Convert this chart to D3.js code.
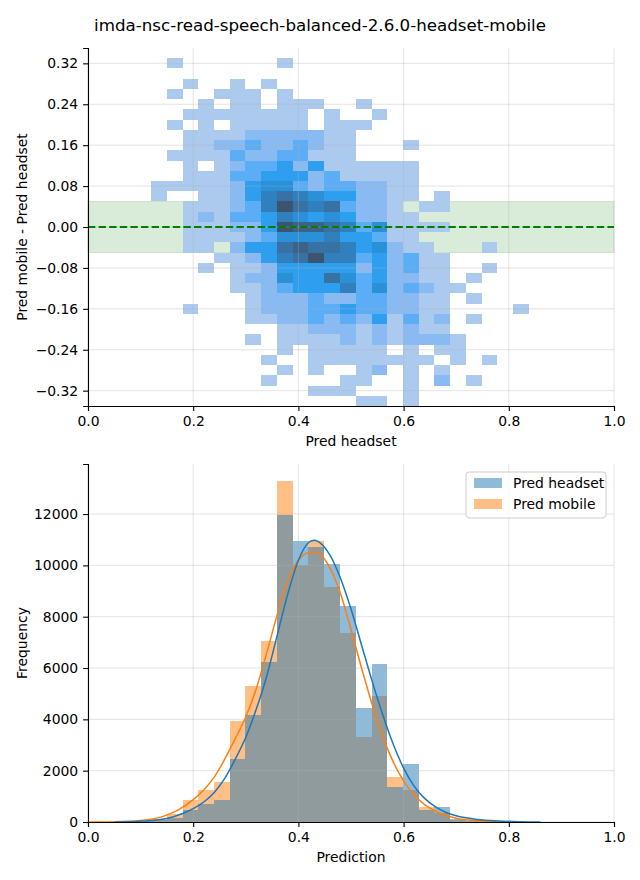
<!DOCTYPE html>
<html><head><meta charset="utf-8">
<script src="https://cdn.jsdelivr.net/npm/d3@7"></script>
<style>body{margin:0;background:#fff} text{font-family:"DejaVu Sans",sans-serif;fill:#000}</style>
</head><body><svg id="c" width="640" height="880"></svg>
<script>
// ---------------- DATA ----------------
const title = "imda-nsc-read-speech-balanced-2.6.0-headset-mobile";
const hmXEdges = [0.1198,0.1497,0.1797,0.2096,0.2396,0.2695,0.2994,0.3294,0.3593,0.3893,0.4192,0.4491,0.4791,0.5090,0.5390,0.5689,0.5988,0.6288,0.6587,0.6887,0.7186,0.7485,0.7785,0.8084,0.8384];
const hmYEdges = [0.33,0.31,0.29,0.27,0.25,0.23,0.21,0.19,0.17,0.15,0.13,0.11,0.09,0.07,0.05,0.03,0.01,-0.01,-0.03,-0.05,-0.07,-0.09,-0.11,-0.13,-0.15,-0.17,-0.19,-0.21,-0.23,-0.25,-0.27,-0.29,-0.31,-0.33,-0.35];
const hmCounts = [
[0,1,0,0,0,0,0,0,1,0,0,0,0,0,0,0,0,0,0,0,0,0,0,0],
[0,0,0,0,0,0,0,0,0,0,0,0,0,0,0,0,0,0,0,0,0,0,0,0],
[0,0,1,0,0,1,0,1,0,0,0,0,0,0,0,0,0,0,0,0,0,0,0,0],
[0,1,0,0,1,1,1,0,1,0,0,0,0,0,0,0,0,0,0,0,0,0,0,0],
[0,0,0,1,0,1,1,0,1,1,1,0,0,1,0,0,0,0,0,0,0,0,0,0],
[0,0,1,1,1,1,1,1,1,1,0,1,0,0,1,0,0,0,0,0,0,0,0,0],
[0,1,0,1,0,1,1,1,1,1,0,1,1,1,0,0,0,0,0,0,0,0,0,0],
[0,0,1,1,1,1,2,2,2,2,2,1,1,0,0,0,0,0,0,0,0,0,0,0],
[0,0,1,1,2,2,3,2,2,3,2,1,1,0,0,0,1,0,0,0,0,0,0,0],
[0,1,1,1,1,3,2,2,3,3,1,1,1,0,0,0,0,0,0,0,0,0,0,0],
[0,0,1,0,1,2,3,3,4,2,4,1,1,1,1,1,1,0,0,0,0,0,0,0],
[0,0,1,1,1,3,3,4,4,4,2,3,1,1,1,1,1,0,0,0,0,0,0,0],
[1,1,1,1,1,2,4,5,5,3,2,3,3,2,2,1,1,0,0,0,0,0,0,0],
[1,0,0,1,1,2,4,6,7,6,5,4,4,2,2,1,1,0,1,0,0,0,0,0],
[0,0,1,1,1,2,3,6,9,7,6,7,3,2,2,1,0,1,1,0,0,0,0,0],
[0,0,1,2,1,3,3,4,6,5,4,5,4,2,2,1,1,0,0,0,0,0,0,0],
[0,0,1,1,1,2,2,4,9,8,8,7,6,3,5,1,1,1,1,0,0,0,0,0],
[0,0,1,1,1,1,2,3,5,5,5,6,4,4,3,1,1,0,0,0,0,0,0,0],
[0,0,1,1,0,2,4,4,7,8,7,7,6,4,5,2,1,1,0,0,0,1,0,0],
[0,0,0,0,1,1,2,4,6,7,9,6,6,3,4,2,3,1,1,0,0,0,0,0],
[0,0,0,1,0,1,1,2,4,4,4,4,4,2,4,2,3,1,1,0,0,1,0,0],
[0,0,0,0,0,1,2,2,5,4,4,7,5,3,4,2,2,1,1,0,1,0,0,0],
[0,0,0,0,0,1,1,2,3,4,4,4,6,3,5,2,3,2,1,1,0,0,0,0],
[0,0,0,0,0,0,1,2,2,2,3,2,2,3,3,2,2,1,1,0,1,0,0,0],
[0,0,1,0,0,0,1,2,2,2,3,3,4,3,3,2,2,1,1,0,0,0,0,1],
[0,0,0,0,0,0,1,1,2,2,3,2,3,2,4,1,3,1,2,0,1,0,0,0],
[0,0,0,0,0,0,0,0,1,1,2,2,2,1,2,1,2,1,1,0,0,0,0,0],
[0,0,0,0,0,0,1,0,1,1,1,1,2,1,2,1,2,2,2,1,0,0,0,0],
[0,0,0,0,0,0,0,0,1,0,1,1,1,1,1,0,1,0,1,1,0,0,0,0],
[0,0,0,0,0,0,0,1,0,0,1,1,1,1,1,1,1,1,0,1,0,1,0,0],
[0,0,0,0,0,0,0,0,1,0,1,0,0,1,2,0,1,0,1,0,0,0,0,0],
[0,0,0,0,0,0,0,1,0,0,0,0,1,1,0,0,1,0,2,0,1,0,0,0],
[0,0,0,0,0,0,0,0,0,0,1,1,1,0,0,0,1,0,0,0,0,0,0,0],
[0,0,0,0,0,0,0,0,0,0,0,0,0,1,1,0,1,0,0,0,0,0,0,0]
];
const bandLimits = [-0.05, 0.05];
const topYTicks = [-0.32,-0.24,-0.16,-0.08,0,0.08,0.16,0.24,0.32];
const xTicks = [0,0.2,0.4,0.6,0.8,1.0];

const histEdges = [0.0599,0.0898,0.1198,0.1497,0.1797,0.2096,0.2396,0.2695,0.2994,0.3294,0.3593,0.3893,0.4192,0.4491,0.4791,0.5090,0.5390,0.5689,0.5988,0.6288,0.6587,0.6887,0.7186,0.7485,0.7785,0.8084];
const histHeadset = [10,20,60,150,450,700,850,2450,4150,6250,11950,10950,10700,10050,8400,4450,6150,1350,2250,450,600,100,40,15,5];
const histMobile  = [20,40,100,300,850,1250,1550,3950,5300,7050,13290,10000,10950,9150,7350,3300,4900,1750,1250,600,350,80,30,10,3];
const kdeXHeadset = [0.05,0.10,0.15,0.18,0.20,0.22,0.24,0.26,0.28,0.30,0.32,0.34,0.36,0.38,0.40,0.42,0.43,0.44,0.46,0.48,0.50,0.52,0.54,0.56,0.58,0.60,0.62,0.64,0.66,0.68,0.70,0.74,0.78,0.82,0.86];
const kdeHeadset  = [0,30,140,330,520,780,1150,1700,2450,3300,4400,5700,7300,8900,10200,10900,10980,10900,10400,9500,8300,6900,5500,4200,3050,2100,1400,920,600,380,240,100,40,12,0];
const kdeXMobile  = [0.00,0.05,0.10,0.14,0.17,0.20,0.22,0.24,0.26,0.28,0.30,0.32,0.34,0.36,0.38,0.40,0.42,0.43,0.44,0.46,0.48,0.50,0.52,0.54,0.56,0.58,0.60,0.62,0.64,0.66,0.68,0.70,0.74,0.80];
const kdeMobile   = [0,10,60,200,450,870,1250,1750,2450,3250,4100,5200,6600,8100,9400,10200,10500,10520,10450,9900,8900,7500,6000,4600,3350,2350,1600,1050,680,430,260,150,50,0];
const bottomYTicks = [0,2000,4000,6000,8000,10000,12000];
const seriesNames = ["Pred headset","Pred mobile"];

// ---------------- COLORMAP ----------------
const M=[[3.2406,-1.5372,-0.4986],[-0.9689,1.8758,0.0415],[0.0557,-0.2040,1.0570]];
const MI=[[0.4124,0.3576,0.1805],[0.2126,0.7152,0.0722],[0.0193,0.1192,0.9505]];
const refU=0.19784, refV=0.46834, labE=0.008856, labK=903.3;
function maxChroma(Lv,H){const hr=H*Math.PI/180,s=Math.sin(hr),c=Math.cos(hr);
  const sub1=Math.pow(Lv+16,3)/1560896;const sub2=sub1>labE?sub1:Lv/labK;let res=Infinity;
  for(const [m1,m2,m3] of M){const tp=(0.99915*m1+1.05122*m2+1.14460*m3)*sub2;
    const rb=0.86330*m3-0.17266*m2, lb=0.12949*m3-0.38848*m1;const bottom=(rb*s+lb*c)*sub2;
    for(const t of [0,1]){const C=Lv*(tp-1.05122*t)/(bottom+0.17266*s*t);if(C>0&&C<res)res=C;}}
  return res;}
function husl2rgb(H,S,Lv){const C=maxChroma(Lv,H)/100*S;const hr=H*Math.PI/180;
  const U=Math.cos(hr)*C,V=Math.sin(hr)*C;const Y=Lv>8?Math.pow((Lv+16)/116,3):Lv/labK;
  const vu=U/(13*Lv)+refU,vv=V/(13*Lv)+refV;const X=-(9*Y*vu)/((vu-4)*vv-vu*vv);const Z=(9*Y-15*vv*Y-vv*X)/(3*vv);
  return M.map(r=>{const c=r[0]*X+r[1]*Y+r[2]*Z;const v=c<=0.0031308?12.92*c:1.055*Math.pow(c,1/2.4)-0.055;return Math.max(0,Math.min(1,v));});}
function rgb2husl(r,g,b){const lin=[r,g,b].map(c=>c>0.04045?Math.pow((c+0.055)/1.055,2.4):c/12.92);
  const [X,Y,Z]=MI.map(w=>w[0]*lin[0]+w[1]*lin[1]+w[2]*lin[2]);const d=X+15*Y+3*Z;
  const vu=4*X/d,vv=9*Y/d;const fy=Y>labE?Math.cbrt(Y):7.787*Y+16/116;const Lv=116*fy-16;
  const U=13*Lv*(vu-refU),V=13*Lv*(vv-refV);const C=Math.hypot(U,V);let H=Math.atan2(V,U)*180/Math.PI;if(H<0)H+=360;
  return [H,C/maxChroma(Lv,H)*100,Lv];}
const [h0,s0]=rgb2husl(31/255,119/255,180/255);
const NN=Math.floor(1.15*256);const ramp=[];
for(let i=0;i<256;i++){const xx=-1+2*i/(NN-1);const Lv=35+45*i/255;ramp.push(husl2rgb(h0,s0*Math.cos(xx),Lv));}
ramp.reverse();
function cmap(t){const i=Math.max(0,Math.min(255,Math.floor(t*256)));const c=ramp[i];return d3.rgb(c[0]*255,c[1]*255,c[2]*255).formatHex();}

// ---------------- DRAW ----------------
const svg=d3.select("#c");
const FS=13.9;
const gridCol="#b0b0b0", gridOp=0.45;
const PL=88,PR=614;

svg.append("text").attr("x",320).attr("y",31).attr("text-anchor","middle").style("font-size","16.7px").text(title);

// ===== TOP CHART =====
const tx=d3.scaleLinear().domain([0,1]).range([PL,PR]);
const ty=d3.scaleLinear().domain([-0.35,0.35]).range([406,48]);
const topG=svg.append("g");
topG.append("rect").attr("x",tx(0)).attr("width",tx(1)-tx(0))
  .attr("y",ty(bandLimits[1])).attr("height",ty(bandLimits[0])-ty(bandLimits[1]))
  .attr("fill","green").attr("fill-opacity",0.15).attr("stroke","green").attr("stroke-opacity",0.15);
const flat=[];hmCounts.forEach((row,j)=>row.forEach((v,k)=>{if(v>0)flat.push({j,k,v});}));
const vmin=d3.min(flat,d=>d.v), vmax=d3.max(flat,d=>d.v);
topG.append("g").selectAll("rect").data(flat).join("rect")
  .attr("x",d=>tx(hmXEdges[d.k])).attr("width",d=>tx(hmXEdges[d.k+1])-tx(hmXEdges[d.k]))
  .attr("y",d=>ty(hmYEdges[d.j])).attr("height",d=>ty(hmYEdges[d.j+1])-ty(hmYEdges[d.j]))
  .attr("fill",d=>cmap((d.v-vmin)/(vmax-vmin))).attr("shape-rendering","crispEdges");
const tg=topG.append("g").attr("stroke",gridCol).attr("stroke-opacity",gridOp).attr("stroke-width",0.8);
xTicks.forEach(v=>tg.append("line").attr("x1",tx(v)).attr("x2",tx(v)).attr("y1",48).attr("y2",406));
topYTicks.forEach(v=>tg.append("line").attr("x1",PL).attr("x2",PR).attr("y1",ty(v)).attr("y2",ty(v)));
topG.append("line").attr("x1",PL).attr("x2",PR).attr("y1",ty(0)).attr("y2",ty(0))
  .attr("stroke","green").attr("stroke-width",2).attr("stroke-dasharray","7.4,3.2");
const axB=topG.append("g").attr("transform","translate(0,406)").call(d3.axisBottom(tx).tickValues(xTicks).tickFormat(d3.format(".1f")).tickSizeOuter(0).tickSize(4.9).tickPadding(4.9));
const axL=topG.append("g").attr("transform",`translate(${PL},0)`).call(d3.axisLeft(ty).tickValues(topYTicks).tickFormat(d3.format(".2f")).tickSizeOuter(0).tickSize(4.9).tickPadding(4.9));
[axB,axL].forEach(a=>{a.selectAll("text").style("font-size",FS+"px").style("font-family","DejaVu Sans").attr("fill","#000");a.select(".domain").attr("stroke","#000").attr("stroke-width",1.1);a.selectAll(".tick line").attr("stroke","#000").attr("stroke-width",1.1);});
svg.append("text").attr("x",(PL+PR)/2).attr("y",446).attr("text-anchor","middle").style("font-size",FS+"px").text("Pred headset");
svg.append("text").attr("transform",`translate(27,227) rotate(-90)`).attr("text-anchor","middle").style("font-size",FS+"px").text("Pred mobile - Pred headset");

// ===== BOTTOM CHART =====
const by=d3.scaleLinear().domain([0,13950]).range([822,464]);
const botG=svg.append("g");
const bars=(vals,color)=>botG.append("g").selectAll("rect").data(vals).join("rect")
  .attr("x",(d,i)=>tx(histEdges[i])).attr("width",(d,i)=>tx(histEdges[i+1])-tx(histEdges[i]))
  .attr("y",d=>by(d)).attr("height",d=>by(0)-by(d)).attr("fill",color).attr("fill-opacity",0.5).attr("shape-rendering","crispEdges");
bars(histMobile,"#ff7f0e");
bars(histHeadset,"#1f77b4");
const bg=botG.append("g").attr("stroke",gridCol).attr("stroke-opacity",gridOp).attr("stroke-width",0.8);
xTicks.forEach(v=>bg.append("line").attr("x1",tx(v)).attr("x2",tx(v)).attr("y1",464).attr("y2",822));
bottomYTicks.forEach(v=>bg.append("line").attr("x1",PL).attr("x2",PR).attr("y1",by(v)).attr("y2",by(v)));
const line=d3.line().curve(d3.curveMonotoneX);
botG.append("path").attr("d",line(kdeXMobile.map((x,i)=>[tx(x),by(kdeMobile[i])]))).attr("fill","none").attr("stroke","#ff7f0e").attr("stroke-width",1.5);
botG.append("path").attr("d",line(kdeXHeadset.map((x,i)=>[tx(x),by(kdeHeadset[i])]))).attr("fill","none").attr("stroke","#1f77b4").attr("stroke-width",1.5);
const bxB=botG.append("g").attr("transform","translate(0,822)").call(d3.axisBottom(tx).tickValues(xTicks).tickFormat(d3.format(".1f")).tickSizeOuter(0).tickSize(4.9).tickPadding(4.9));
const bxL=botG.append("g").attr("transform",`translate(${PL},0)`).call(d3.axisLeft(by).tickValues(bottomYTicks).tickFormat(d3.format("d")).tickSizeOuter(0).tickSize(4.9).tickPadding(4.9));
[bxB,bxL].forEach(a=>{a.selectAll("text").style("font-size",FS+"px").style("font-family","DejaVu Sans").attr("fill","#000");a.select(".domain").attr("stroke","#000").attr("stroke-width",1.1);a.selectAll(".tick line").attr("stroke","#000").attr("stroke-width",1.1);});
svg.append("text").attr("x",(PL+PR)/2).attr("y",862).attr("text-anchor","middle").style("font-size",FS+"px").text("Prediction");
svg.append("text").attr("transform",`translate(27,643) rotate(-90)`).attr("text-anchor","middle").style("font-size",FS+"px").text("Frequency");
const lg=botG.append("g");
lg.append("rect").attr("x",466).attr("y",472).attr("width",140).attr("height",46).attr("rx",3)
  .attr("fill","#fff").attr("fill-opacity",0.8).attr("stroke","#cccccc").attr("stroke-width",1);
const legColors=["#1f77b4","#ff7f0e"];
seriesNames.forEach((n,i)=>{
  lg.append("rect").attr("x",474).attr("y",478+i*21).attr("width",28).attr("height",10).attr("fill",legColors[i]).attr("fill-opacity",0.5);
  lg.append("text").attr("x",513).attr("y",488+i*21).style("font-size",FS+"px").text(n);
});
</script></body></html>
